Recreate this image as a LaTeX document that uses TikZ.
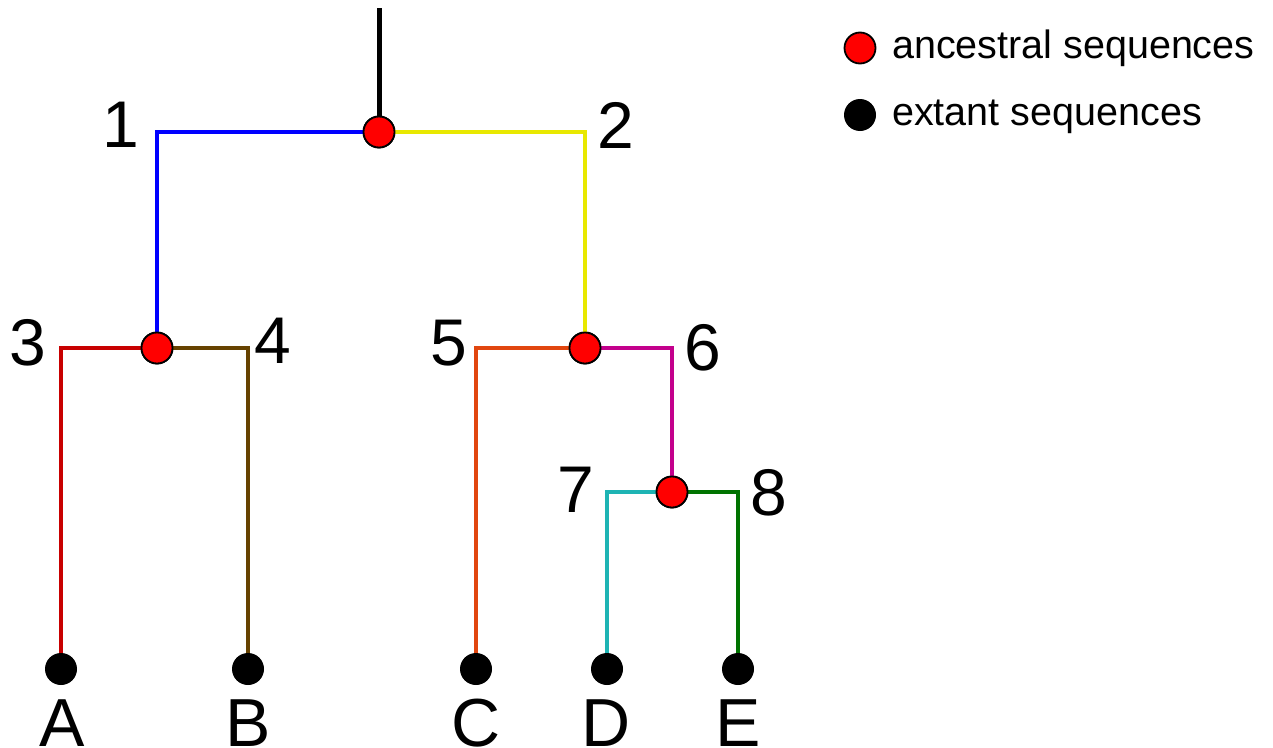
\documentclass[tikz,border=0pt]{standalone}
\usepackage{fontspec}
\setmainfont{Liberation Sans}
\definecolor{cBlue}{RGB}{0,0,255}
\definecolor{cYellow}{RGB}{232,232,0}
\definecolor{cRed}{RGB}{200,0,0}
\definecolor{cBrown}{RGB}{102,66,0}
\definecolor{cOrange}{RGB}{225,70,15}
\definecolor{cMagenta}{RGB}{195,0,140}
\definecolor{cCyan}{RGB}{30,180,180}
\definecolor{cGreen}{RGB}{0,115,0}
\definecolor{cNodeRed}{RGB}{255,0,0}
\tikzset{
  anc/.style={circle,draw=black,line width=1.8pt,fill=cNodeRed,minimum size=31pt,inner sep=0pt},
  ext/.style={circle,fill=black,minimum size=32pt,inner sep=0pt},
  branch/.style={line width=4.8pt},
  lbl/.style={anchor=base,inner sep=0pt,font=\fontsize{66}{78}\selectfont},
  leaflbl/.style={anchor=base,inner sep=0pt,font=\fontsize{68}{80}\selectfont},
  leg/.style={anchor=base west,inner sep=0pt,font=\fontsize{39.5}{46}\selectfont},
}
\begin{document}
\begin{tikzpicture}[x=1pt,y=-1pt]
\useasboundingbox (0,0) rectangle (1273,747);
% nodes
\coordinate (top) at (379,8);
\node[anc] (r) at (379,132) {};
\node[anc] (n3) at (157,348) {};
\node[anc] (n5) at (585,348) {};
\node[anc] (n7) at (672,492) {};
\node[ext] (A) at (61,669) {};
\node[ext] (B) at (248,669) {};
\node[ext] (C) at (476,669) {};
\node[ext] (D) at (607,669) {};
\node[ext] (E) at (738,669) {};
% edges
\draw[line width=5pt,black] (top) -- (r);
\draw[branch,cBlue] (r) -| (n3);
\draw[branch,cYellow] (r) -| (n5);
\draw[branch,cRed] (n3) -| (A);
\draw[branch,cBrown] (n3) -| (B);
\draw[branch,cOrange] (n5) -| (C);
\draw[branch,cMagenta] (n5) -| (n7);
\draw[branch,cCyan] (n7) -| (D);
\draw[branch,cGreen] (n7) -| (E);
% redraw nodes on top
\node[anc] at (r) {};
\node[anc] at (n3) {};
\node[anc] at (n5) {};
\node[anc] at (n7) {};
% branch labels
\node[lbl] (l1) at (121,147) {1};
\node[lbl] (l2) at (616,148) {2};
\node[lbl] (l3) at (28,365) {3};
\node[lbl] (l4) at (273,363) {4};
\node[lbl] (l5) at (449,365) {5};
\node[lbl] (l6) at (703,370) {6};
\node[lbl] (l7) at (576,512) {7};
\node[lbl] (l8) at (769,515) {8};
% leaf labels
\node[leaflbl] (tA) at (62,746) {A};
\node[leaflbl] (tB) at (248,746) {B};
\node[leaflbl] (tC) at (476,746) {C};
\node[leaflbl] (tD) at (606,746) {D};
\node[leaflbl] (tE) at (738,746) {E};
% legend
\node[anc] (la) at (860,48) {};
\node[ext] (le) at (860,115) {};
\node[leg] (ta) at (892,58) {ancestral sequences};
\node[leg] (te) at (892,125) {extant sequences};
\end{tikzpicture}
\end{document}
